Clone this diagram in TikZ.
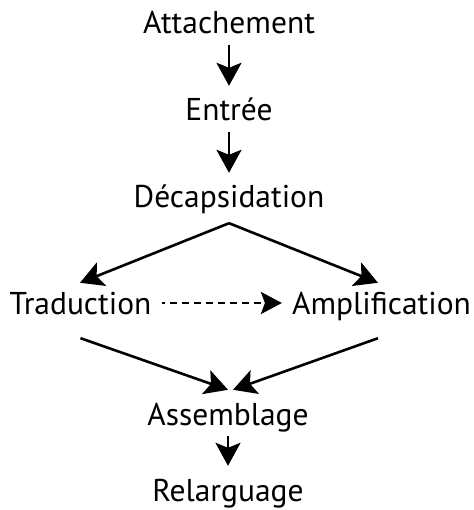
\documentclass[tikz,border=0pt]{standalone}
\usepackage{fontspec}
\setmainfont{PT Sans}
\usetikzlibrary{arrows.meta}
\begin{document}
\begin{tikzpicture}[x=1pt, y=-1pt, line join=round,
		bigtip/.tip={Stealth[length=23pt,width=25pt,inset=5pt]},
		dashtip/.tip={Stealth[length=21pt,width=22pt,inset=4pt]},
		stagebox/.style={anchor=base, inner sep=0pt, text height=30pt, text depth=8pt, font=\fontsize{31.5}{36}\selectfont},
		conn/.style={-bigtip, line width=2.8pt, shorten <=3pt, shorten >=5pt},
		link/.style={-bigtip, line width=2.6pt}]
			\useasboundingbox (0,0) rectangle (473,510);
			\node[stagebox] (attach) at (229,34) {Attachement};
			\node[stagebox] (entree) at (229,121) {Entrée};
			\node[stagebox] (decaps) at (229,208) {Décapsidation};
			\node[stagebox] (trad) at (80.5,314) {Traduction};
			\node[stagebox] (ampli) at (381.5,314) {Amplification};
			\node[stagebox] (assemb) at (228,425) {Assemblage};
			\node[stagebox] (relarg) at (228,501) {Relarguage};
			\draw[conn] (attach) -- (entree);
			\draw[conn] (entree) -- (decaps);
			\draw[conn] (assemb) -- (relarg);
			\draw[link] ([yshift=-7pt]decaps.south) -- ([xshift=-0.5pt,yshift=1pt]trad.north);
			\draw[link] ([yshift=-7pt]decaps.south) -- ([xshift=-3.5pt,yshift=1pt]ampli.north);
			\draw[-dashtip, line width=2.8pt, dash pattern=on 7pt off 5pt, dash phase=4pt, shorten <=10pt, shorten >=10pt] (trad) -- (ampli);
			\draw[link] ([yshift=-16pt]trad.south) -- ([xshift=0pt,yshift=5pt]assemb.north);
			\draw[link] ([xshift=-3.5pt,yshift=-16pt]ampli.south) -- ([xshift=5pt,yshift=5pt]assemb.north);
		\end{tikzpicture}
\end{document}
